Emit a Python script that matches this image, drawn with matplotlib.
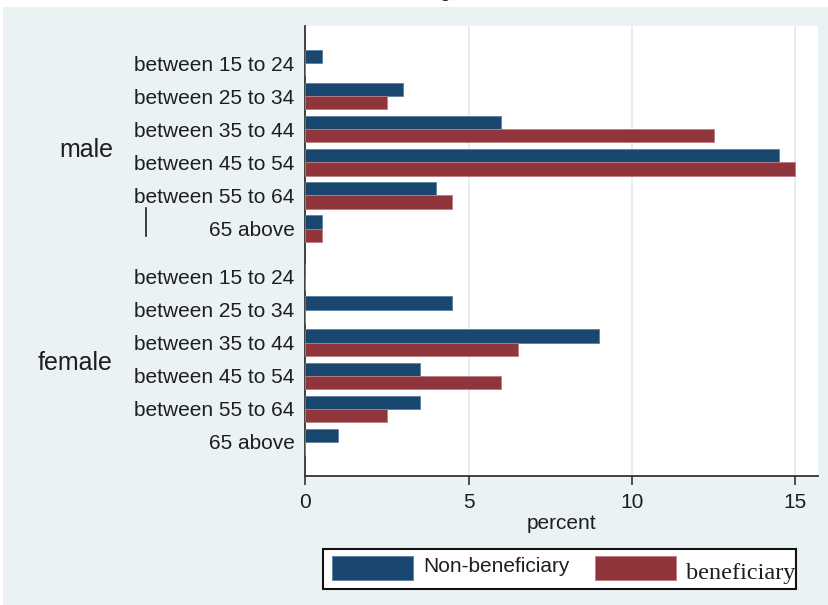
import numpy as np
import matplotlib
matplotlib.use("Agg")
import matplotlib.pyplot as plt
from matplotlib.patches import Rectangle
from matplotlib.lines import Line2D

ages = ['between 15 to 24', 'between 25 to 34', 'between 35 to 44',
        'between 45 to 54', 'between 55 to 64', '65 above']
groups = ['male', 'female']
male_non = [0.5, 3.0, 6.0, 14.5, 4.0, 0.5]
male_ben = [0.0, 2.5, 12.5, 15.0, 4.5, 0.5]
female_non = [0.0, 4.5, 9.0, 3.5, 3.5, 1.0]
female_ben = [0.0, 0.0, 6.5, 6.0, 2.5, 0.0]
series = ['Non-beneficiary', 'beneficiary']
xticks = [0, 5, 10, 15]

navy = '#1a476f'
maroon = '#90353b'
bg = '#eaf2f3'
ink = '#1e1e1e'

plt.rcParams['font.family'] = ['Liberation Sans', 'DejaVu Sans']

W, H = 829, 605
fig = plt.figure(figsize=(W / 100, H / 100), dpi=100)
fig.patch.set_facecolor('white')

def fx(px):
    return px / W

def fy(py):
    return 1 - py / H

# graph region
fig.add_artist(Rectangle((fx(3), 0), 1 - fx(3), fy(7), transform=fig.transFigure,
                         facecolor=bg, edgecolor='none', zorder=-10))

ax = fig.add_axes([fx(305.5), fy(476), fx(818) - fx(305.5), fy(26) - fy(476)])
ax.set_facecolor('white')

gap = 6.45
pos = np.concatenate([np.arange(6), np.arange(6) + gap])
non = np.array(male_non + female_non)
ben = np.array(male_ben + female_ben)
h = 0.4
ax.barh(pos - h / 2, non, height=h, color=navy, edgecolor='#5d7f9f', linewidth=0.6, zorder=3)
ax.barh(pos + h / 2, ben, height=h, color=maroon, edgecolor='#b97f84', linewidth=0.6, zorder=3)

ax.set_xlim(0, 15.7)
ax.set_ylim(12.48, -1.12)
ax.set_yticks(pos)
ax.set_yticklabels(ages + ages, fontsize=15, color=ink)
ax.tick_params(axis='y', length=0, pad=8)
ax.set_xticks(xticks)
ax.set_xticklabels([str(t) for t in xticks], fontsize=15, color=ink)
ax.tick_params(axis='x', length=6.5, width=1.2, color='#333333', pad=6)
ax.grid(axis='x', color='#e3ecef', linewidth=1.3, zorder=0)
for s in ['top', 'right']:
    ax.spines[s].set_visible(False)
for s in ['left', 'bottom']:
    ax.spines[s].set_color('#333333')
    ax.spines[s].set_linewidth(1.3)
ax.set_xlabel('percent', fontsize=15, color=ink, labelpad=1)

for g, off in zip(groups, [0, gap]):
    ax.text(fx(113 - 305.5) / (fx(818) - fx(305.5)), off + 2.62, g, transform=ax.get_yaxis_transform(),
            ha='right', va='center', fontsize=18, color=ink)

# stray vertical mark beside the male group
fig.add_artist(Line2D([fx(146), fx(146)], [fy(208), fy(236)], transform=fig.transFigure,
                      color=ink, linewidth=1.2))

# clipped title
fig.text(fx(445), 1 + 2.5 / H, 'g', ha='center', va='baseline', fontsize=14, color=ink)

# legend box
fig.add_artist(Rectangle((fx(323), fy(589)), fx(796) - fx(323), fy(549) - fy(589),
                         transform=fig.transFigure, facecolor='white', edgecolor='#111111',
                         linewidth=1.5, zorder=5))
fig.add_artist(Rectangle((fx(332), fy(580)), fx(81), fy(556) - fy(580),
                         transform=fig.transFigure, facecolor=navy, edgecolor='#5d7f9f',
                         linewidth=0.6, zorder=6))
fig.add_artist(Rectangle((fx(595), fy(580)), fx(81), fy(556) - fy(580),
                         transform=fig.transFigure, facecolor=maroon, edgecolor='#b97f84',
                         linewidth=0.6, zorder=6))
fig.text(fx(423), fy(567), series[0], ha='left', va='center', fontsize=15,
         color=ink, zorder=7)
fig.text(fx(686), fy(574), series[1], ha='left', va='center', fontsize=17.5,
         family='Liberation Serif', color=ink, zorder=7)

fig.savefig('out.png', dpi=100)
